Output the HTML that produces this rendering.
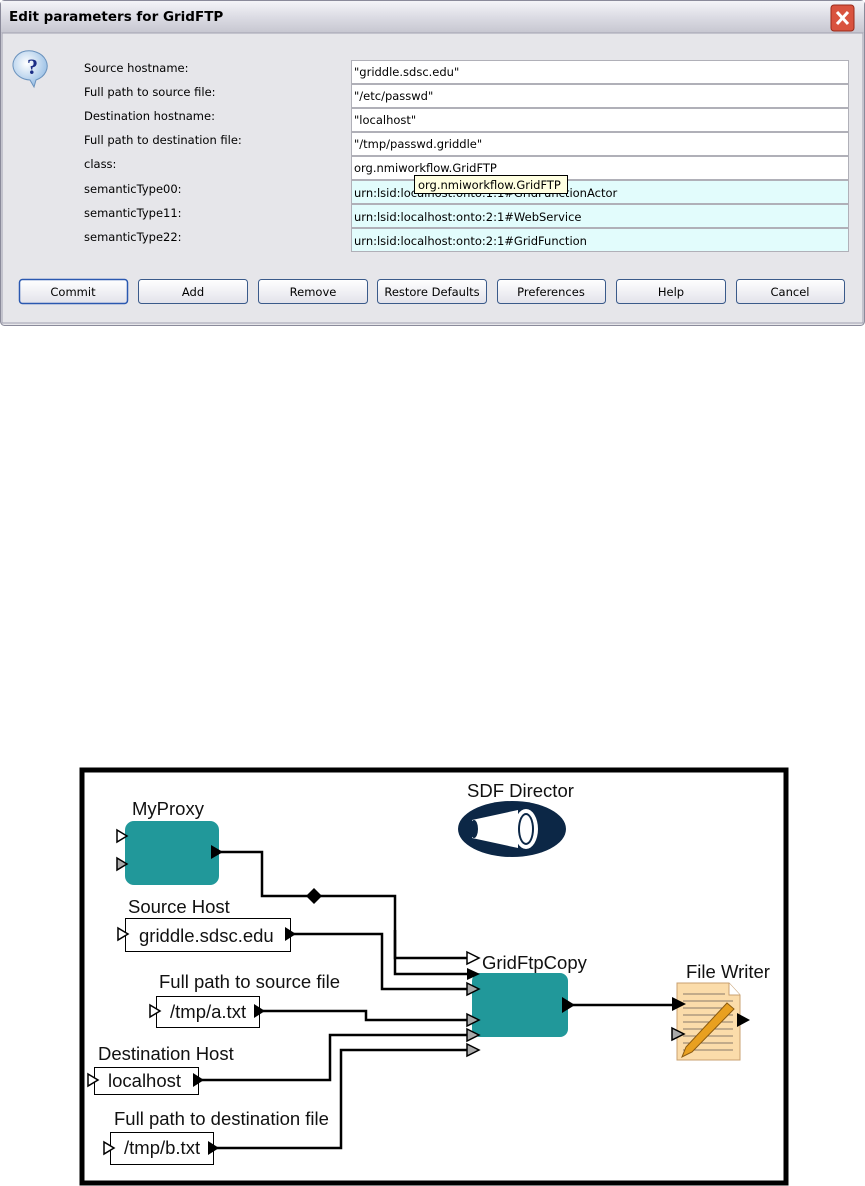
<!DOCTYPE html>
<html><head><meta charset="utf-8"><style>
html,body{margin:0;padding:0;background:#fff;}
svg{display:block;}
.t{font-family:"DejaVu Sans","Liberation Sans",sans-serif;font-size:11.5px;fill:#000;}
.d{font-family:"Liberation Sans",sans-serif;font-size:18.5px;fill:#111;}
</style></head><body>
<svg width="865" height="1186" viewBox="0 0 865 1186" xmlns="http://www.w3.org/2000/svg">
<defs>
<linearGradient id="tb" x1="0" y1="0" x2="0" y2="1"><stop offset="0" stop-color="#f4f4f8"/><stop offset="0.5" stop-color="#dcdce4"/><stop offset="1" stop-color="#c6c6d0"/></linearGradient>
<linearGradient id="bt" x1="0" y1="0" x2="0" y2="1"><stop offset="0" stop-color="#ffffff"/><stop offset="1" stop-color="#e2e2ea"/></linearGradient>
<radialGradient id="qb" cx="0.4" cy="0.35" r="0.7"><stop offset="0" stop-color="#ffffff"/><stop offset="1" stop-color="#8fb9e3"/></radialGradient>
</defs>
<rect x="0.5" y="0.5" width="864" height="325" rx="4" fill="#e6e6ea" stroke="#8a8a9a"/>
<rect x="1" y="1" width="863" height="32" fill="url(#tb)"/>
<text x="9" y="21" font-family="DejaVu Sans, Liberation Sans, sans-serif" font-size="13.5" font-weight="bold" fill="#000">Edit parameters for GridFTP</text>
<rect x="831" y="5" width="23" height="26" rx="3" fill="#d9533f" stroke="#9a2a1a"/>
<path d="M837 12 L848 24 M848 12 L837 24" stroke="#fff" stroke-width="3"/>
<rect x="2" y="33" width="861" height="290" fill="none" stroke="#a0a0b0"/>
<path d="M22 52 a18 15 0 1 1 14 28 l-2 7 l-4 -7 a18 15 0 0 1 -8 -28z" fill="url(#qb)" stroke="#6a92bd"/>
<text x="27" y="74" font-family="Liberation Serif,serif" font-size="22" font-weight="bold" fill="#1a2d86">?</text>
<g class="t">
<text x="84" y="72">Source hostname:</text>
<text x="84" y="96">Full path to source file:</text>
<text x="84" y="120">Destination hostname:</text>
<text x="84" y="144">Full path to destination file:</text>
<text x="84" y="168">class:</text>
<text x="84" y="193">semanticType00:</text>
<text x="84" y="217">semanticType11:</text>
<text x="84" y="241">semanticType22:</text>
</g>
<g stroke="#b0b0b8">
<rect x="351.5" y="60.5" width="497" height="23" fill="#fff"/>
<rect x="351.5" y="84.5" width="497" height="23" fill="#fff"/>
<rect x="351.5" y="108.5" width="497" height="23" fill="#fff"/>
<rect x="351.5" y="132.5" width="497" height="23" fill="#fff"/>
<rect x="351.5" y="156.5" width="497" height="23" fill="#fff"/>
<rect x="351.5" y="180.5" width="497" height="23" fill="#e2fcfc"/>
<rect x="351.5" y="204.5" width="497" height="23" fill="#e2fcfc"/>
<rect x="351.5" y="228.5" width="497" height="23" fill="#e2fcfc"/>
</g>
<g class="t">
<text x="354" y="76">"griddle.sdsc.edu"</text>
<text x="354" y="100">"/etc/passwd"</text>
<text x="354" y="124">"localhost"</text>
<text x="354" y="148">"/tmp/passwd.griddle"</text>
<text x="354" y="172">org.nmiworkflow.GridFTP</text>
<text x="354" y="197">urn:lsid:localhost:onto:1:1#GridFunctionActor</text>
<text x="354" y="221">urn:lsid:localhost:onto:2:1#WebService</text>
<text x="354" y="245">urn:lsid:localhost:onto:2:1#GridFunction</text>
</g>
<rect x="414.5" y="175.5" width="153" height="18" fill="#ffffe1" stroke="#000"/>
<text class="t" x="418" y="189">org.nmiworkflow.GridFTP</text>
<g stroke="#3a5a8a" fill="url(#bt)">
<rect x="19.5" y="279.5" width="108" height="24" rx="3" stroke="#2a58b0" stroke-width="1.5"/>
<rect x="138.5" y="279.5" width="109" height="24" rx="3"/>
<rect x="258.5" y="279.5" width="109" height="24" rx="3"/>
<rect x="377.5" y="279.5" width="109" height="24" rx="3"/>
<rect x="497.5" y="279.5" width="108" height="24" rx="3"/>
<rect x="616.5" y="279.5" width="109" height="24" rx="3"/>
<rect x="736.5" y="279.5" width="108" height="24" rx="3"/>
</g>
<g class="t" text-anchor="middle" font-size="12">
<text x="73" y="296">Commit</text>
<text x="193" y="296">Add</text>
<text x="313" y="296">Remove</text>
<text x="432" y="296">Restore Defaults</text>
<text x="551" y="296">Preferences</text>
<text x="671" y="296">Help</text>
<text x="790" y="296">Cancel</text>
</g>

<rect x="82" y="770" width="704" height="413" fill="#fff" stroke="#000" stroke-width="5"/>
<text class="d" x="467" y="797">SDF Director</text>
<ellipse cx="512" cy="829" rx="54" ry="28" fill="#0c2746"/>
<path d="M472 820 L518 810 L518 848 L472 838 Z" fill="#fff"/>
<ellipse cx="526" cy="829" rx="12" ry="20" fill="#fff"/>
<ellipse cx="526" cy="829" rx="8" ry="16" fill="#0c2746"/>
<ellipse cx="526" cy="829" rx="6" ry="14" fill="#fff"/>
<ellipse cx="474" cy="829" rx="4" ry="9" fill="#0c2746"/>

<g fill="none" stroke="#000" stroke-width="2.5">
<path d="M220 852 H262 V896 H395 V958 H468"/>
<path d="M395 930 V974 H468"/>
<path d="M293 934 H382 V989 H468"/>
<path d="M262 1011 H366 V1020 H468"/>
<path d="M201 1080 H330 V1035 H468"/>
<path d="M216 1148 H341 V1050 H468"/>
<path d="M572 1005 H674"/>
</g>
<path d="M314 888 L322 896 L314 904 L306 896 Z" fill="#000"/>

<text class="d" x="132" y="815">MyProxy</text>
<rect x="125" y="821" width="94" height="64" rx="9" fill="#21989a"/>
<path d="M117 830 L127 836 L117 842 Z" fill="#fff" stroke="#000" stroke-width="1.5"/>
<path d="M117 858 L127 864 L117 870 Z" fill="#aaa" stroke="#000" stroke-width="1.5"/>
<path d="M211 845 L223 852 L211 859 Z" fill="#000"/>

<text class="d" x="128" y="913">Source Host</text>
<rect x="125.5" y="918.5" width="165" height="33" fill="#fff" stroke="#000"/>
<text class="d" x="139" y="942">griddle.sdsc.edu</text>
<path d="M118 928 L128 934 L118 940 Z" fill="#fff" stroke="#000" stroke-width="1.5"/>
<path d="M285 927 L296 934 L285 941 Z" fill="#000"/>

<text class="d" x="159" y="988">Full path to source file</text>
<rect x="156.5" y="996.5" width="103" height="31" fill="#fff" stroke="#000"/>
<text class="d" x="170" y="1018">/tmp/a.txt</text>
<path d="M150 1005 L160 1011 L150 1017 Z" fill="#fff" stroke="#000" stroke-width="1.5"/>
<path d="M254 1004 L265 1011 L254 1018 Z" fill="#000"/>

<text class="d" x="98" y="1060">Destination Host</text>
<rect x="94.5" y="1067.5" width="104" height="27" fill="#fff" stroke="#000"/>
<text class="d" x="108" y="1087">localhost</text>
<path d="M88 1074 L98 1080 L88 1086 Z" fill="#fff" stroke="#000" stroke-width="1.5"/>
<path d="M193 1073 L204 1080 L193 1087 Z" fill="#000"/>

<text class="d" x="114" y="1125">Full path to destination file</text>
<rect x="110.5" y="1132.5" width="103" height="32" fill="#fff" stroke="#000"/>
<text class="d" x="124" y="1154">/tmp/b.txt</text>
<path d="M104 1142 L114 1148 L104 1154 Z" fill="#fff" stroke="#000" stroke-width="1.5"/>
<path d="M208 1141 L219 1148 L208 1155 Z" fill="#000"/>

<text class="d" x="482" y="969">GridFtpCopy</text>
<rect x="472" y="973" width="96" height="64" rx="8" fill="#21989a"/>
<path d="M467 952 L479 958 L467 964 Z" fill="#fff" stroke="#000" stroke-width="1.5"/>
<path d="M467 968 L480 974 L467 980 Z" fill="#000"/>
<path d="M467 983 L479 989 L467 995 Z" fill="#aaa" stroke="#000" stroke-width="1.5"/>
<path d="M467 1014 L479 1020 L467 1026 Z" fill="#aaa" stroke="#000" stroke-width="1.5"/>
<path d="M467 1029 L479 1035 L467 1041 Z" fill="#aaa" stroke="#000" stroke-width="1.5"/>
<path d="M467 1044 L479 1050 L467 1056 Z" fill="#aaa" stroke="#000" stroke-width="1.5"/>
<path d="M562 997 L575 1005 L562 1013 Z" fill="#000"/>

<text class="d" x="686" y="978">File Writer</text>
<path d="M677 983 H729 L740 995 V1060 H677 Z" fill="#fbdcaa" stroke="#c8a070"/>
<path d="M729 983 V995 H740" fill="#fff" stroke="#c8a070"/>
<g stroke="#8a7a6a" stroke-width="1">
<path d="M683 994 H725 M683 1001 H733 M683 1008 H733 M683 1015 H733 M683 1022 H733 M683 1029 H733 M683 1036 H733 M683 1043 H733 M683 1050 H733"/>
</g>
<path d="M727 1003 L734 1009 L692 1052 L682 1057 L686 1047 Z" fill="#e8a020" stroke="#8a5a10"/>
<path d="M672 997 L686 1004 L672 1011 Z" fill="#000"/>
<path d="M672 1028 L684 1034 L672 1040 Z" fill="#aaa" stroke="#000" stroke-width="1.5"/>
<path d="M737 1013 L750 1020 L737 1027 Z" fill="#000"/>
</svg>
</body></html>
